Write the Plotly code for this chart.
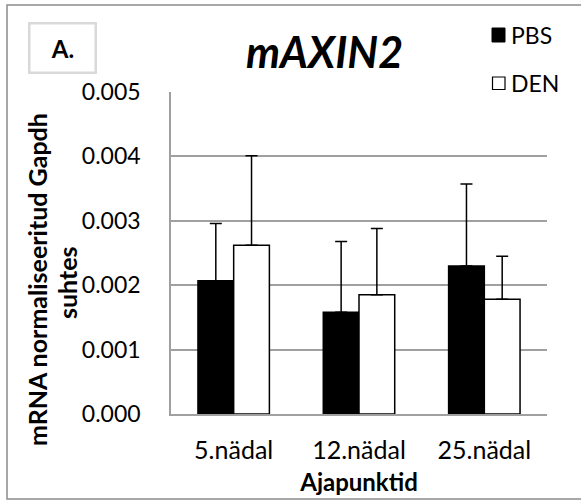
import plotly.graph_objects as go

categories = ["5.nädal", "12.nädal", "25.nädal"]
pbs_values = [0.00207, 0.00158, 0.00230]
pbs_errors = [0.00089, 0.00110, 0.00127]
den_values = [0.00262, 0.00185, 0.00178]
den_errors = [0.00139, 0.00103, 0.00067]
y_ticks = [0.000, 0.001, 0.002, 0.003, 0.004, 0.005]
y_tick_labels = ["0.000", "0.001", "0.002", "0.003", "0.004", "0.005"]
series_names = ["PBS", "DEN"]

W, H = 581, 500
L, R, T, B = 171, 34, 92, 86
PW, PH = W - L - R, H - T - B

def px(x):
    return (x - L) / PW

def py(y):
    return (H - B - y) / PH

FONT = "Lato, 'Open Sans', sans-serif"

fig = go.Figure()
fig.add_trace(go.Bar(
    x=categories, y=pbs_values, name=series_names[0],
    marker=dict(color="black", line=dict(color="black", width=1.5)),
    error_y=dict(type="data", array=pbs_errors, arrayminus=[0]*3, symmetric=False,
                 color="black", thickness=1.5, width=6),
))
fig.add_trace(go.Bar(
    x=categories, y=den_values, name=series_names[1],
    marker=dict(color="white", line=dict(color="black", width=1.5)),
    error_y=dict(type="data", array=den_errors, arrayminus=[0]*3, symmetric=False,
                 color="black", thickness=1.5, width=6),
))

fig.update_layout(
    width=W, height=H,
    margin=dict(l=L, r=R, t=T, b=B),
    paper_bgcolor="white", plot_bgcolor="white",
    barmode="group", bargap=0.43, bargroupgap=0,
    font=dict(family=FONT, color="black", size=22),
    showlegend=False,
    xaxis=dict(showline=True, linecolor="#a0a0a0", linewidth=1.5, ticks="",
               tickfont=dict(size=25), showgrid=False, ticklabelstandoff=13,
               automargin=False,
               title=dict(text="<b>Ajapunktid</b>", font=dict(size=24), standoff=11)),
    yaxis=dict(range=[0, 0.005], tickvals=y_ticks, ticktext=y_tick_labels,
               showgrid=True, gridcolor="#a0a0a0", gridwidth=1.5,
               showline=True, linecolor="#a0a0a0", linewidth=1.5,
               ticks="", tickfont=dict(size=23), zeroline=False,
               ticklabelstandoff=24, automargin=False),
    shapes=[
        dict(type="rect", xref="paper", yref="paper",
             x0=px(7), x1=px(600), y0=py(499), y1=py(5),
             line=dict(color="#8c8c8c", width=1.5), layer="below"),
        # legend swatches
        dict(type="rect", xref="paper", yref="paper",
             x0=px(492), x1=px(505), y0=py(42), y1=py(28),
             fillcolor="black", line=dict(color="black", width=1)),
        dict(type="rect", xref="paper", yref="paper",
             x0=px(492.5), x1=px(505), y0=py(89.5), y1=py(77),
             fillcolor="white", line=dict(color="black", width=1.2)),
    ],
    annotations=[
        dict(text=series_names[0], xref="paper", yref="paper",
             x=px(509), y=py(35), xanchor="left", yanchor="middle",
             showarrow=False, font=dict(size=23, family=FONT)),
        dict(text=series_names[1], xref="paper", yref="paper",
             x=px(509), y=py(83), xanchor="left", yanchor="middle",
             showarrow=False, font=dict(size=23, family=FONT)),
        dict(text="<b><i>mAXIN2</i></b>", xref="paper", yref="paper",
             x=px(324), y=py(52), xanchor="center", yanchor="middle",
             showarrow=False, font=dict(size=43, family=FONT)),
        dict(text="<b>A.</b>", xref="paper", yref="paper",
             x=px(63), y=py(48.5), xanchor="center", yanchor="middle",
             showarrow=False, font=dict(size=24, family=FONT),
             width=64, height=47, bordercolor="#d9d9d9", borderwidth=2.5,
             borderpad=0),
        dict(text="<b>mRNA normaliseeritud Gapdh</b>", xref="paper", yref="paper",
             x=px(37), y=py(280), xanchor="center", yanchor="middle",
             textangle=-90, showarrow=False, font=dict(size=25, family=FONT)),
        dict(text="<b>suhtes</b>", xref="paper", yref="paper",
             x=px(67), y=py(283), xanchor="center", yanchor="middle",
             textangle=-90, showarrow=False, font=dict(size=25, family=FONT)),
    ],
)

fig.write_html("out.html")
